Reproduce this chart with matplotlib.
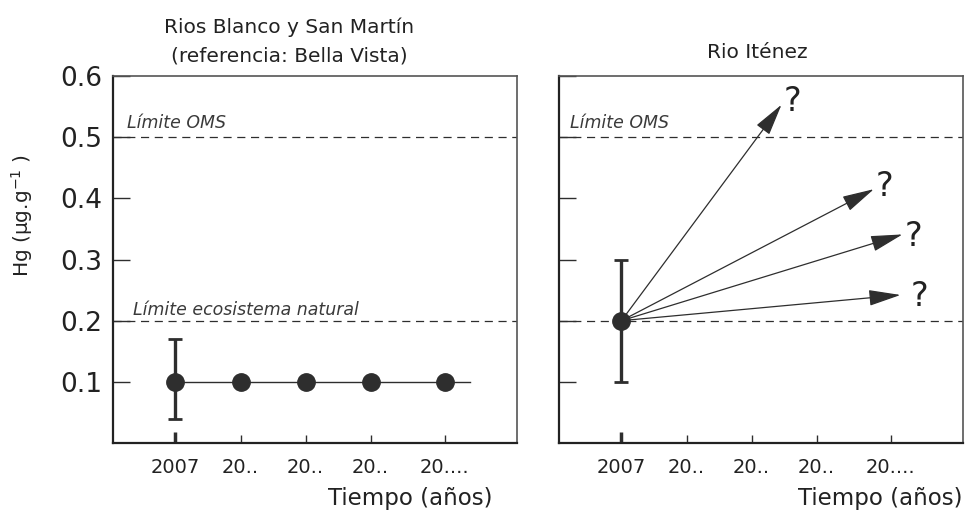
import matplotlib
matplotlib.use("Agg")
import matplotlib.pyplot as plt
from matplotlib.patches import FancyArrowPatch

plt.rcParams["font.family"] = ["DejaVu Sans"]
plt.rcParams["mathtext.fontset"] = "dejavusans"

# --- data -------------------------------------------------------------
year_labels = ["2007", "20..", "20..", "20..", "20...."]
year_slots = [1, 2, 3, 4, 5.14]          # horizontal slot of each time label
trend_end = 5.52                          # how far the flat trend line runs

# Rios Blanco y San Martín (Bella Vista reference)
blanco_hg = [0.10, 0.10, 0.10, 0.10, 0.10]
blanco_low_2007 = 0.04
blanco_high_2007 = 0.17

# Rio Iténez: measured 2007 value and possible future scenarios
itenez_hg_2007 = 0.20
itenez_low_2007 = 0.10
itenez_high_2007 = 0.30
scenario_x = [3.46, 4.88, 5.32, 5.29]
scenario_hg = [0.553, 0.415, 0.341, 0.242]
qmark_offsets = [(8, -4.5), (8, -5), (8, -8.5), (13.5, -8)]

limit_oms = 0.5
limit_natural = 0.2

y_ticks = [0.1, 0.2, 0.3, 0.4, 0.5, 0.6]

# --- styling ----------------------------------------------------------
DARK = "#222222"
LINE = "#2e2e2e"
GREY = "#555555"

fig = plt.figure(figsize=(9.67, 5.15), dpi=100)
ax_l = fig.add_axes([113 / 967, 1 - 443 / 515, 404 / 967, 367 / 515])
ax_r = fig.add_axes([559 / 967, 1 - 443 / 515, 404 / 967, 367 / 515])


def style_axes(ax, show_ylabels):
    ax.set_xlim(0.04, 6.25)
    ax.set_ylim(0, 0.6)
    for side in ("left", "bottom"):
        ax.spines[side].set_linewidth(1.6)
        ax.spines[side].set_color(DARK)
    for side in ("top", "right"):
        ax.spines[side].set_linewidth(1.2)
        ax.spines[side].set_color(GREY)
    ax.set_yticks(y_ticks)
    if show_ylabels:
        ax.set_yticklabels([f"{v:.1f}" for v in y_ticks])
    else:
        ax.set_yticklabels([])
    ax.tick_params(axis="y", direction="in", length=12, width=1.0,
                   color=LINE, labelsize=19, pad=8, labelcolor=DARK)
    ax.set_xticks(year_slots)
    ax.set_xticklabels(year_labels)
    ax.tick_params(axis="x", direction="in", length=6, width=1.0,
                   color=LINE, labelsize=14, pad=11, labelcolor=DARK)
    first = ax.xaxis.get_major_ticks()[0]
    first.tick1line.set_markeredgewidth(2.5)
    first.tick1line.set_markersize(8)
    dash = dict(color=LINE, lw=0.9, dashes=(6.5, 4.5), zorder=1)
    ax.axhline(limit_oms, **dash)
    ax.axhline(limit_natural, **dash)
    ax.text(0.25 if show_ylabels else 0.215, limit_oms + 0.015, "Límite OMS",
            fontsize=12.5, style="italic", color="#3a3a3a", va="baseline")


style_axes(ax_l, True)
style_axes(ax_r, False)

# left panel: stable levels through time
ax_l.text(0.34, limit_natural + 0.01, "Límite ecosistema natural",
          fontsize=12.5, style="italic", color="#3a3a3a", va="baseline")
ax_l.plot([year_slots[0], trend_end], [blanco_hg[0], blanco_hg[0]],
          color=LINE, lw=1.0, zorder=2)
ax_l.errorbar([year_slots[0]], [blanco_hg[0]],
              yerr=[[blanco_hg[0] - blanco_low_2007],
                    [blanco_high_2007 - blanco_hg[0]]],
              fmt="none", ecolor=LINE, elinewidth=2.4, capsize=5,
              capthick=2.0, zorder=3)
ax_l.plot(year_slots, blanco_hg, "o", ms=12.5, color=LINE, zorder=4)

# right panel: 2007 value and uncertain projections
ax_r.errorbar([year_slots[0]], [itenez_hg_2007],
              yerr=[[itenez_hg_2007 - itenez_low_2007],
                    [itenez_high_2007 - itenez_hg_2007]],
              fmt="none", ecolor=LINE, elinewidth=2.4, capsize=5,
              capthick=2.0, zorder=3)
ax_r.plot([year_slots[0]], [itenez_hg_2007], "o", ms=12.5, color=LINE,
          zorder=4)

for sx, sy, off in zip(scenario_x, scenario_hg, qmark_offsets):
    arrow = FancyArrowPatch((year_slots[0], itenez_hg_2007), (sx, sy),
                            arrowstyle="-|>,head_length=1.0,head_width=0.25",
                            mutation_scale=20, shrinkA=0, shrinkB=0,
                            color=LINE, lw=0.9, zorder=3)
    ax_r.add_patch(arrow)
    ax_r.annotate("?", xy=(sx, sy), xytext=off, textcoords="offset points",
                  ha="center", va="baseline", fontsize=24, color=DARK)

# titles and axis labels
fig.text(289 / 967, 1 - 33 / 515, "Rios Blanco y San Martín",
         ha="center", va="baseline", fontsize=14.5, color=DARK)
fig.text(289 / 967, 1 - 61 / 515, "(referencia: Bella Vista)",
         ha="center", va="baseline", fontsize=14.5, color=DARK)
fig.text(757 / 967, 1 - 58 / 515, "Rio Iténez",
         ha="center", va="baseline", fontsize=14.5, color=DARK)
fig.text(22 / 967, 1 - 216 / 515, r"Hg (µg.g$^{-1}$ )", rotation=90,
         ha="center", va="center", fontsize=14.5, color=DARK)
fig.text(492 / 967, 1 - 505 / 515, "Tiempo (años)",
         ha="right", va="baseline", fontsize=16.5, color=DARK)
fig.text(963 / 967, 1 - 505 / 515, "Tiempo (años)",
         ha="right", va="baseline", fontsize=16.5, color=DARK)

fig.savefig("out.png", dpi=100, facecolor="white")
